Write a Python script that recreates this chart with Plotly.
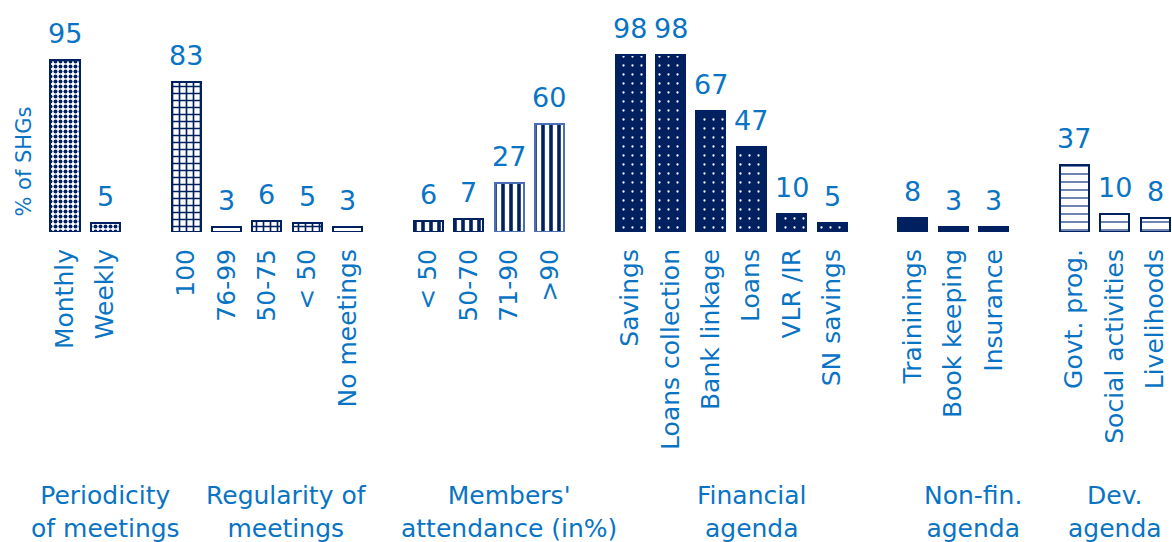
import plotly.graph_objects as go

# ---- data -------------------------------------------------------------
group_titles = [
    "Periodicity<br>of meetings",
    "Regularity of<br>meetings",
    "Members'<br>attendance (in%)",
    "Financial<br>agenda",
    "Non-fin.<br>agenda",
    "Dev.<br>agenda",
]

periodicity_labels = ["Monthly", "Weekly"]
periodicity_values = [95, 5]

regularity_labels = ["100", "76-99", "50-75", "< 50", "No meetings"]
regularity_values = [83, 3, 6, 5, 3]

attendance_labels = ["< 50", "50-70", "71-90", ">90"]
attendance_values = [6, 7, 27, 60]

financial_labels = ["Savings", "Loans collection", "Bank linkage", "Loans", "VLR /IR", "SN savings"]
financial_values = [98, 98, 67, 47, 10, 5]

nonfin_labels = ["Traininings", "Book keeping", "Insurance"]
nonfin_values = [8, 3, 3]

dev_labels = ["Govt. prog.", "Social activities", "Livelihoods"]
dev_values = [37, 10, 8]

# ---- styling ----------------------------------------------------------
NAVY = "#002060"
BLUE = "#0A74C4"
STEEL = "#4a6fb5"
FONT = "DejaVu Sans"
WHITE = "#ffffff"

groups = [
    (periodicity_labels, periodicity_values),
    (regularity_labels, regularity_values),
    (attendance_labels, attendance_values),
    (financial_labels, financial_values),
    (nonfin_labels, nonfin_values),
    (dev_labels, dev_values),
]

# per-group bar styling: pattern shape(s), size, solidity, fg, bg, outline colour(s)
styles = [
    dict(shape=".", size=5, solidity=0.5, fg=NAVY, bg=WHITE, line=[NAVY, NAVY]),
    dict(shape=["+", "-", "+", "+", "-"], size=7, solidity=0.42, fg=NAVY, bg=WHITE,
         line=[NAVY] * 5),
    dict(shape="|", size=8, solidity=0.45, fg=NAVY, bg=WHITE,
         line=[NAVY, NAVY, STEEL, STEEL]),
    dict(shape=".", size=9, solidity=0.05, fg=WHITE, bg=NAVY, line=[NAVY] * 6),
    dict(shape="", size=8, solidity=0.3, fg=NAVY, bg=NAVY, line=[NAVY] * 3),
    dict(shape="-", size=8, solidity=0.22, fg="#5a73a8", bg=WHITE, line=[NAVY] * 3),
]

fig = go.Figure()

tickvals, ticktext = [], []
group_centers = []
pos = 0
for (labels, values), st in zip(groups, styles):
    xs = list(range(pos, pos + len(labels)))
    tickvals += xs
    ticktext += labels
    group_centers.append((xs[0] + xs[-1]) / 2)
    fig.add_trace(go.Bar(
        x=xs, y=values, width=0.72,
        marker=dict(
            color=st["bg"],
            line=dict(color=st["line"], width=2),
            pattern=dict(shape=st["shape"], size=st["size"], solidity=st["solidity"],
                         fgcolor=st["fg"], bgcolor=st["bg"], fillmode="replace"),
        ),
        showlegend=False, hoverinfo="skip",
    ))
    # value labels above each bar
    for x, v in zip(xs, values):
        fig.add_annotation(x=x, y=v, text=str(v), showarrow=False,
                           yanchor="bottom", yshift=9,
                           font=dict(family=FONT, size=27, color=BLUE))
    pos += len(labels) + 1  # one empty slot between groups

# group captions under the category labels
for i, (c, title) in enumerate(zip(group_centers, group_titles)):
    fig.add_annotation(x=c, xref="x", y=0, yref="paper", yanchor="top",
                       xshift=20 if i < len(group_titles) - 1 else 0,
                       yshift=-247, text=title, showarrow=False,
                       font=dict(family=FONT, size=25, color=BLUE))

# y-axis caption
fig.add_annotation(x=0, xref="paper", xanchor="center", xshift=-19,
                   y=0.356, yref="paper", text="% of SHGs", textangle=-90,
                   showarrow=False, font=dict(family=FONT, size=21, color=BLUE))

fig.update_layout(
    width=1172, height=542,
    margin=dict(l=43, r=0, t=34, b=310),
    paper_bgcolor="white", plot_bgcolor="white",
    bargap=0, barmode="overlay",
    xaxis=dict(range=[-0.545, 27.42], tickmode="array", tickvals=tickvals,
               ticktext=ticktext, tickangle=-90, showgrid=False, zeroline=False,
               showline=False, ticks="", ticklabelstandoff=11,
               tickfont=dict(family=FONT, size=25, color=BLUE)),
    yaxis=dict(range=[0, 109.6], visible=False, showgrid=False, zeroline=False),
)

fig.write_html("out.html")
